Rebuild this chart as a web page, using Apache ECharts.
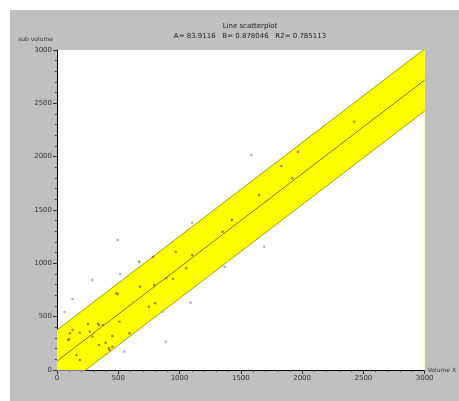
<!DOCTYPE html>
<html>
<head>
<meta charset="utf-8">
<script src="https://cdn.jsdelivr.net/npm/echarts@6/dist/echarts.min.js"></script>
<style>html,body{margin:0;padding:0;background:#fff}#c{width:459px;height:401px}</style>
</head>
<body>
<div id="c"></div>
<script>
// Chart data
var titleLine1 = 'Line scatterplot';
var titleLine2 = 'A= 83.9116   B= 0.878046   R2= 0.785113';
var xAxisName = 'Volume X';
var yAxisName = 'sub volume';
var axisMin = 0, axisMax = 3000, axisStep = 500;

// fitted line and confidence band end points (x, y)
var fitLine = [[0, 84], [3000, 2718]];
var bandUpper = [[0, 375], [3000, 3010]];
var bandLower = [[0, -206], [3000, 2428]];

// points inside the band
var pointsIn = [
  [127,375],[100,288],[253,431],[267,359],[342,422],[289,313],[451,319],[342,234],
  [423,203],[396,256],[159,141],[186,94],[510,453],[591,344],[451,219],[105,344],
  [186,350],[91,281],[334,437],[429,187],[671,1015],[785,1059],[677,781],[793,797],
  [496,712],[752,594],[801,625],[968,1109],[1103,1078],[1054,953],[946,853],[892,859],
  [1351,1297],[1427,1406],[2425,2328],[1966,2047],[1831,1912],[1920,1797],[1648,1641],[375,422],[483,719]
];
// points outside the band
var pointsOut = [
  [127,666],[62,544],[289,844],[515,900],[493,1219],[860,547],[1090,631],[887,266],
  [1103,1381],[1367,969],[1691,1156],[1586,2016],[550,172]
];

var chart = echarts.init(document.getElementById('c'), null, {renderer: 'canvas'});
var axisCommon = {
  type: 'value', min: axisMin, max: axisMax, interval: axisStep,
  axisLine: {show: true, lineStyle: {color: '#000', width: 1}},
  axisTick: {show: true, length: 4, lineStyle: {color: '#333'}},
  minorTick: {show: true, splitNumber: 5, length: 2, lineStyle: {color: '#444'}},
  splitLine: {show: false},
  axisLabel: {color: '#333', fontSize: 7, fontFamily: 'DejaVu Sans', margin: 5,
    formatter: function (v) { return String(v); }}
};
chart.setOption({
  backgroundColor: '#ffffff',
  animation: false,
  graphic: [
    {type: 'rect', left: 10, top: 10, z: -10, shape: {width: 449, height: 391}, style: {fill: '#c0c0c0'}}
  ],
  title: {
    text: titleLine1 + '\n' + titleLine2,
    left: 245, top: 16, textAlign: 'center',
    textStyle: {fontSize: 7, fontWeight: 'normal', color: '#222', fontFamily: 'DejaVu Sans', lineHeight: 10}
  },
  grid: {left: 57, right: 29, top: 50, bottom: 31, show: true, backgroundColor: '#ffffff', borderWidth: 0},
  xAxis: Object.assign({}, axisCommon, {
    name: xAxisName, nameLocation: 'end', nameGap: 3,
    nameTextStyle: {fontSize: 6, color: '#333', fontFamily: 'DejaVu Sans', verticalAlign: 'middle'}
  }),
  yAxis: Object.assign({}, axisCommon, {
    name: yAxisName, nameLocation: 'end', nameGap: 8,
    nameTextStyle: {fontSize: 6, color: '#333', fontFamily: 'DejaVu Sans', align: 'right', padding: [0, 4, 0, 0]}
  }),
  series: [
    {type: 'line', data: bandUpper, symbol: 'none', clip: true, z: 1,
     lineStyle: {color: '#a0a000', width: 1}, areaStyle: {color: '#ffff00', opacity: 1, origin: 'start'}},
    {type: 'line', data: bandLower, symbol: 'none', clip: true, z: 2,
     lineStyle: {color: '#a0a000', width: 1}, areaStyle: {color: '#ffffff', opacity: 1, origin: 'start'}},
    {type: 'line', data: fitLine, symbol: 'none', clip: true, z: 3,
     lineStyle: {color: '#7a7a10', width: 1}},
    {type: 'scatter', data: pointsIn, symbol: 'circle', symbolSize: 2.5, z: 4,
     itemStyle: {color: '#8a6a30'}},
    {type: 'scatter', data: pointsOut, symbol: 'circle', symbolSize: 2.5, z: 4,
     itemStyle: {color: '#9a9ab4'}}
  ]
});
</script>
</body>
</html>
